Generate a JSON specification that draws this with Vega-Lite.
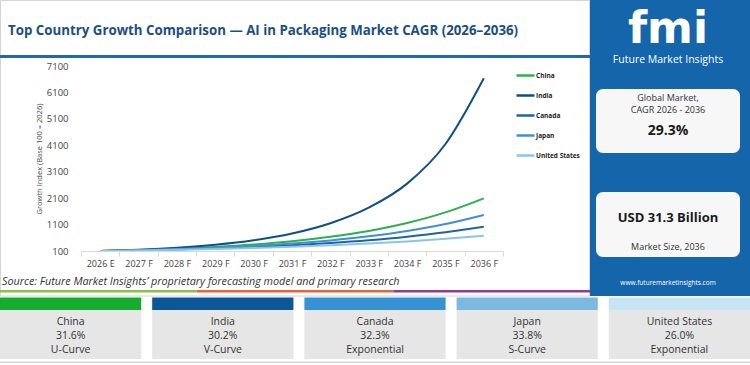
{
  "$schema": "https://vega.github.io/schema/vega-lite/v6.json",
  "width": 750,
  "height": 365,
  "autosize": {"type": "none"},
  "padding": 0,
  "background": "white",
  "config": {"view": {"stroke": null}, "font": "Open Sans"},
  "datasets": {
    "growth": [
      {"year": "2026 E", "country": "China", "index": 100},
      {"year": "2027 F", "country": "China", "index": 138},
      {"year": "2028 F", "country": "China", "index": 188},
      {"year": "2029 F", "country": "China", "index": 256},
      {"year": "2030 F", "country": "China", "index": 347},
      {"year": "2031 F", "country": "China", "index": 470},
      {"year": "2032 F", "country": "China", "index": 640},
      {"year": "2033 F", "country": "China", "index": 860},
      {"year": "2034 F", "country": "China", "index": 1160},
      {"year": "2035 F", "country": "China", "index": 1560},
      {"year": "2036 F", "country": "China", "index": 2090},
      {"year": "2026 E", "country": "India", "index": 100},
      {"year": "2027 F", "country": "India", "index": 148},
      {"year": "2028 F", "country": "India", "index": 222},
      {"year": "2029 F", "country": "India", "index": 335},
      {"year": "2030 F", "country": "India", "index": 505},
      {"year": "2031 F", "country": "India", "index": 760},
      {"year": "2032 F", "country": "India", "index": 1150},
      {"year": "2033 F", "country": "India", "index": 1740},
      {"year": "2034 F", "country": "India", "index": 2650},
      {"year": "2035 F", "country": "India", "index": 4150},
      {"year": "2036 F", "country": "India", "index": 6640},
      {"year": "2026 E", "country": "Canada", "index": 100},
      {"year": "2027 F", "country": "Canada", "index": 126},
      {"year": "2028 F", "country": "Canada", "index": 159},
      {"year": "2029 F", "country": "Canada", "index": 201},
      {"year": "2030 F", "country": "Canada", "index": 253},
      {"year": "2031 F", "country": "Canada", "index": 319},
      {"year": "2032 F", "country": "Canada", "index": 403},
      {"year": "2033 F", "country": "Canada", "index": 508},
      {"year": "2034 F", "country": "Canada", "index": 641},
      {"year": "2035 F", "country": "Canada", "index": 809},
      {"year": "2036 F", "country": "Canada", "index": 1020},
      {"year": "2026 E", "country": "Japan", "index": 100},
      {"year": "2027 F", "country": "Japan", "index": 131},
      {"year": "2028 F", "country": "Japan", "index": 171},
      {"year": "2029 F", "country": "Japan", "index": 224},
      {"year": "2030 F", "country": "Japan", "index": 293},
      {"year": "2031 F", "country": "Japan", "index": 383},
      {"year": "2032 F", "country": "Japan", "index": 501},
      {"year": "2033 F", "country": "Japan", "index": 655},
      {"year": "2034 F", "country": "Japan", "index": 856},
      {"year": "2035 F", "country": "Japan", "index": 1120},
      {"year": "2036 F", "country": "Japan", "index": 1464},
      {"year": "2026 E", "country": "United States", "index": 100},
      {"year": "2027 F", "country": "United States", "index": 121},
      {"year": "2028 F", "country": "United States", "index": 147},
      {"year": "2029 F", "country": "United States", "index": 178},
      {"year": "2030 F", "country": "United States", "index": 215},
      {"year": "2031 F", "country": "United States", "index": 261},
      {"year": "2032 F", "country": "United States", "index": 316},
      {"year": "2033 F", "country": "United States", "index": 383},
      {"year": "2034 F", "country": "United States", "index": 464},
      {"year": "2035 F", "country": "United States", "index": 562},
      {"year": "2036 F", "country": "United States", "index": 680}
    ],
    "cards": [
      {"country": "China", "cagr": "31.6%", "curve": "U-Curve"},
      {"country": "India", "cagr": "30.2%", "curve": "V-Curve"},
      {"country": "Canada", "cagr": "32.3%", "curve": "Exponential"},
      {"country": "Japan", "cagr": "33.8%", "curve": "S-Curve"},
      {"country": "United States", "cagr": "26.0%", "curve": "Exponential"}
    ],
    "segments": [{"seg": "s1"}, {"seg": "s2"}, {"seg": "s3"}],
    "one": [{}]
  },
  "layer": [
    {"data": {"name": "one"}, "mark": {"type": "rect", "x": 0.5, "y": 0.5, "x2": 589.5, "y2": 296, "fill": "white", "stroke": "#d4d4d4", "strokeWidth": 1}, "encoding": {}},
    {"data": {"name": "one"}, "mark": {"type": "text", "x": 8, "y": 35, "align": "left", "baseline": "alphabetic", "fontSize": 13.3, "fontWeight": "bold", "fill": "#1b4f83", "text": "Top Country Growth Comparison \u2014 AI in Packaging Market CAGR (2026\u20132036)"}, "encoding": {}},
    {"data": {"name": "one"}, "mark": {"type": "rect", "x": 0, "y": 55, "x2": 590, "y2": 58, "fill": "#1f6aa8"}, "encoding": {}},
    {"data": {"name": "one"}, "mark": {"type": "rect", "x": 590, "y": 0, "x2": 750, "y2": 296, "fill": "#1565ab"}, "encoding": {}},
    {"data": {"name": "one"}, "mark": {"type": "text", "x": 668, "y": 52, "align": "center", "baseline": "bottom", "font": "DejaVu Sans", "fontSize": 44, "fontWeight": "bold", "fill": "white", "text": "fmi"}, "encoding": {}},
    {"data": {"name": "one"}, "mark": {"type": "text", "x": 668, "y": 59.5, "align": "center", "baseline": "middle", "fontSize": 10.5, "fill": "white", "text": "Future Market Insights"}, "encoding": {}},
    {"data": {"name": "one"}, "mark": {"type": "rect", "x": 596, "y": 89, "x2": 740, "y2": 153, "cornerRadius": 7, "fill": "#f7f7f7"}, "encoding": {}},
    {"data": {"name": "one"}, "mark": {"type": "rect", "x": 596, "y": 192, "x2": 740, "y2": 257, "cornerRadius": 7, "fill": "#f7f7f7"}, "encoding": {}},
    {"data": {"name": "one"}, "mark": {"type": "text", "x": 668, "y": 98, "align": "center", "baseline": "middle", "fontSize": 9, "fill": "#333333", "text": "Global Market,"}, "encoding": {}},
    {"data": {"name": "one"}, "mark": {"type": "text", "x": 668, "y": 110, "align": "center", "baseline": "middle", "fontSize": 9, "fill": "#333333", "text": "CAGR 2026 - 2036"}, "encoding": {}},
    {"data": {"name": "one"}, "mark": {"type": "text", "x": 668, "y": 131, "align": "center", "baseline": "middle", "fontSize": 14, "fontWeight": "bold", "fill": "#1a1a1a", "text": "29.3%"}, "encoding": {}},
    {"data": {"name": "one"}, "mark": {"type": "text", "x": 668, "y": 218, "align": "center", "baseline": "middle", "fontSize": 13, "fontWeight": "bold", "fill": "#1a1a1a", "text": "USD 31.3 Billion"}, "encoding": {}},
    {"data": {"name": "one"}, "mark": {"type": "text", "x": 668, "y": 247, "align": "center", "baseline": "middle", "fontSize": 9, "fill": "#333333", "text": "Market Size, 2036"}, "encoding": {}},
    {"data": {"name": "one"}, "mark": {"type": "text", "x": 668, "y": 283, "align": "center", "baseline": "middle", "fontSize": 6.5, "fill": "white", "text": "www.futuremarketinsights.com"}, "encoding": {}},
    {
      "data": {"name": "growth"},
      "mark": {"type": "line", "strokeWidth": 2, "interpolate": "monotone"},
      "encoding": {
        "x": {
          "field": "year", "type": "ordinal", "sort": null,
          "scale": {"type": "band", "range": [81, 503], "paddingInner": 0, "paddingOuter": 0},
          "axis": {"orient": "bottom", "offset": -114, "zindex": 1, "title": null, "labelAngle": 0, "labelFontSize": 9, "labelColor": "#444444", "labelPadding": 3, "tickBand": "extent", "tickSize": 5, "tickColor": "#d9d9d9", "domainColor": "#d9d9d9", "grid": false}
        },
        "y": {
          "field": "index", "type": "quantitative",
          "scale": {"domain": [100, 7100], "range": [251, 66], "nice": false, "zero": false},
          "axis": {"orient": "left", "offset": -80, "zindex": 1, "values": [100, 1100, 2100, 3100, 4100, 5100, 6100, 7100], "format": "d", "ticks": false, "domain": false, "grid": false, "labelFontSize": 9.5, "labelColor": "#444444", "labelPadding": 12, "title": "Growth Index (Base 100 = 2026)", "titleFontSize": 7.5, "titleFontWeight": "normal", "titleColor": "#444444", "titlePadding": 3}
        },
        "color": {
          "field": "country", "type": "nominal",
          "scale": {"domain": ["China", "India", "Canada", "Japan", "United States"], "range": ["#2bb24c", "#0e4f86", "#1e64a3", "#3f8fd2", "#8cc4e8"]},
          "legend": {"orient": "none", "legendX": 515, "legendY": 65, "title": null, "symbolType": "stroke", "symbolSize": 324, "symbolStrokeWidth": 2.5, "labelFontSize": 6.5, "labelFontWeight": "bold", "labelColor": "#222222", "labelOffset": 0, "rowPadding": 4}
        }
      }
    },
    {"data": {"name": "one"}, "mark": {"type": "text", "x": 2, "y": 282, "align": "left", "baseline": "middle", "fontSize": 10.8, "fontStyle": "italic", "fill": "#333333", "text": "Source: Future Market Insights\u2019 proprietary forecasting model and primary research"}, "encoding": {}},
    {
      "data": {"name": "segments"},
      "mark": {"type": "rect", "y": 290, "y2": 292.5},
      "encoding": {
        "x": {"field": "seg", "type": "nominal", "scale": {"type": "band", "range": [0, 590], "paddingInner": 0, "paddingOuter": 0}, "axis": null},
        "color": {"field": "seg", "type": "nominal", "scale": {"domain": ["s1", "s2", "s3"], "range": ["#8cc04b", "#e8653a", "#8e3b98"]}, "legend": null}
      }
    },
    {
      "data": {"name": "cards"},
      "encoding": {
        "x": {"field": "country", "type": "nominal", "sort": null, "scale": {"type": "band", "range": [0, 750], "paddingInner": 0.072, "paddingOuter": 0}, "axis": null}
      },
      "layer": [
        {"mark": {"type": "rect", "y": 310, "y2": 359, "fill": "#e6e6e6"}},
        {"mark": {"type": "rect", "y": 297.5, "y2": 310}, "encoding": {"color": {"field": "country", "type": "nominal", "scale": {"domain": ["China", "India", "Canada", "Japan", "United States"], "range": ["#14ad2e", "#0b5798", "#3593d5", "#7cb9e1", "#c7e4f5"]}, "legend": null}}},
        {"mark": {"type": "text", "y": 322, "baseline": "middle", "fontSize": 10.5, "fill": "#333333"}, "encoding": {"text": {"field": "country"}}},
        {"mark": {"type": "text", "y": 336, "baseline": "middle", "fontSize": 10.5, "fill": "#333333"}, "encoding": {"text": {"field": "cagr"}}},
        {"mark": {"type": "text", "y": 350, "baseline": "middle", "fontSize": 10.5, "fill": "#333333"}, "encoding": {"text": {"field": "curve"}}}
      ],
      "resolve": {"scale": {"color": "independent"}}
    },
    {"data": {"name": "one"}, "mark": {"type": "rect", "x": 0, "y": 361.5, "x2": 750, "y2": 363, "fill": "#d6d6d6"}, "encoding": {}}
  ],
  "resolve": {
    "scale": {"x": "independent", "y": "independent", "color": "independent"},
    "axis": {"x": "independent", "y": "independent"},
    "legend": {"color": "independent"}
  }
}
